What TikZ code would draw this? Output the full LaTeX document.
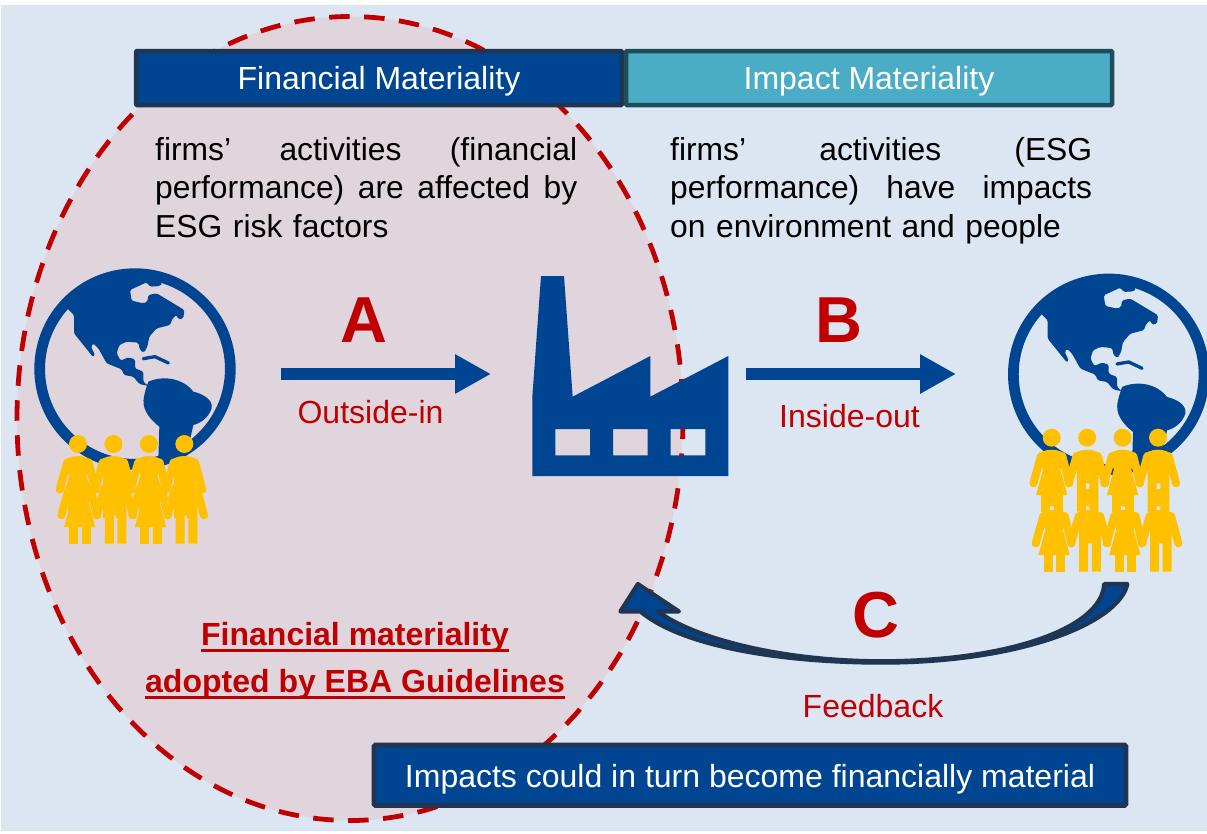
\documentclass[tikz,border=0pt]{standalone}
\usepackage{fontspec}
\setmainfont{Liberation Sans}
\usetikzlibrary{arrows.meta}
\definecolor{bgblue}{HTML}{DCE6F2}
\definecolor{navy}{HTML}{004592}
\definecolor{navyline}{HTML}{1F3552}
\definecolor{teal}{HTML}{4BACC6}
\definecolor{tealline}{HTML}{1F4E5A}
\definecolor{dred}{HTML}{C00000}
\definecolor{pink}{HTML}{E0D5DD}
\definecolor{gold}{HTML}{FFC000}
\tikzset{
  header/.style={draw, line width=4.5pt, rounded corners=1pt, minimum height=54pt, minimum width=486pt, inner sep=0pt, text=white, font=\fontsize{32}{38}\selectfont, anchor=center},
  bodytext/.style={text=black, text width=422pt, inner sep=0pt, anchor=north west, font=\fontsize{31.8}{38.5}\selectfont},
  bigletter/.style={text=dred, font=\bfseries\fontsize{65}{70}\selectfont, inner sep=0pt},
  redlabel/.style={text=dred, font=\fontsize{32}{38}\selectfont, inner sep=0pt},
  flow/.style={draw=navy, line width=12pt, -{Triangle[length=36pt,width=37pt]}},
  limb/.style={draw=gold, line width=8pt, line cap=round}
}
\newcommand{\lowered}[2]{\raisebox{-#1pt}[0pt][0pt]{#2}}
\newlength{\ulwd}
\newcommand{\thickul}[1]{\settowidth{\ulwd}{#1}\rlap{\rule[-6pt]{\ulwd}{3pt}}#1}
\newcommand{\globeicon}[2]{%
  \begin{scope}[shift={(#1,#2)},scale=1/3,shift={(-405,-357)}]
    \draw[navy,line width=10.7pt] (405,357) circle (286);
    \fill[navy,rounded corners=1.5pt] (205,178) -- (222,195) -- (222,250) -- (280,322) -- (285,315) -- (273,290) -- (280,280) -- (295,295) -- (320,340) -- (365,358) -- (372,375) -- (400,380) -- (418,402) -- (445,408) -- (430,395) -- (430,365) -- (405,355) -- (405,328) -- (385,322) -- (362,332) -- (350,310) -- (358,285) -- (380,275) -- (415,278) -- (420,300) -- (432,308) -- (442,290) -- (448,260) -- (470,235) -- (510,225) -- (518,205) -- (530,195) -- (535,208) -- (550,205) -- (553,180) -- (520,160) -- (470,130) -- (445,135) -- (442,155) -- (430,160) -- (395,152) -- (390,120) -- (440,97) -- (450,110) -- (480,108) -- (487,100) -- (450,72) -- (405,68) -- (350,72) -- (300,95) -- (245,125) -- (195,170) -- cycle;
    \draw[navy,line width=3.3pt,line cap=round] (430,326) -- (465,320) -- (505,339);
    \fill[navy] (445,395) .. controls (490,375) and (550,385) .. (580,425) .. controls (610,432) and (640,450) .. (635,475) .. controls (625,505) and (600,520) .. (580,525) -- (570,570) -- (510,625) -- (475,630) -- (478,530) .. controls (440,500) and (425,470) .. (432,440) .. controls (436,420) and (440,410) .. (445,395) -- cycle;
  \end{scope}}
\newcommand{\femalefig}[1]{%
  \begin{scope}[shift={(#1,0)}]
    \fill[gold] (0,0) circle (27);
    \draw[limb] (-32,55) -- (-55,137);
    \draw[limb] (32,55) -- (52,137);
    \fill[gold] (-42,56) .. controls (-40,44) and (-20,36) .. (0,36) .. controls (20,36) and (40,44) .. (42,56) -- (26,95) -- (47,172) -- (-47,172) -- (-26,95) -- cycle;
    \fill[gold] (-31,165) rectangle (-4,222);
    \fill[gold] (6,165) rectangle (33,222);
  \end{scope}}
\newcommand{\malefig}[1]{%
  \begin{scope}[shift={(#1,0)}]
    \fill[gold] (0,0) circle (27);
    \draw[limb] (-32,55) -- (-55,137);
    \draw[limb] (32,55) -- (54,137);
    \fill[gold] (-42,56) .. controls (-40,44) and (-20,36) .. (0,36) .. controls (20,36) and (40,44) .. (42,56) -- (34,100) -- (34,222) -- (7,222) -- (7,137) -- (-4,137) -- (-4,222) -- (-31,222) -- (-31,100) -- cycle;
  \end{scope}}
\newcommand{\peoplerow}[3]{%
  \begin{scope}[shift={(#1,#2)},scale=1/3,shift={(#3)}]
    \femalefig{0}\malefig{106.3}\femalefig{212.6}\malefig{319}
  \end{scope}}
\begin{document}
\begin{tikzpicture}[x=1pt,y=-1pt]
  \useasboundingbox (0,0) rectangle (1207,833);
  \fill[white] (0,0) rectangle (1207,833);
  \fill[bgblue] (1,5) rectangle (1207,831);
  % ellipse
  \fill[pink] (350,418.5) ellipse [x radius=333, y radius=402];
  \draw[dred,line width=4.8pt,dash pattern=on 20.5pt off 14.5pt] (350,418.5) ellipse [x radius=333, y radius=402];
  % globes and people
  \globeicon{135}{369}
  \peoplerow{78}{444}{0,0}
  \peoplerow{78}{444}{5,77}
  \globeicon{1108.7}{374.3}
  \peoplerow{1051.7}{437.7}{0,0}
  \peoplerow{1051.7}{437.7}{7,180}
  % factory
  \begin{scope}[shift={(510,260)},scale=1/3]
    \fill[navy,even odd rule] (93,48) -- (162,48) -- (188,410) -- (421,288) -- (421,410) -- (655,288) -- (655,648) -- (67,648) -- (67,410) -- cycle
      (136,507) rectangle (240,586) (309,507) rectangle (413,586) (482,507) rectangle (586,586);
  \end{scope}
  % headers
  \node[header, fill=navy, draw=navyline] (fin) at (379,78) {\lowered{11}{Financial Materiality}};
  \node[header, fill=teal, draw=tealline] (imp) at (869,78) {\lowered{11}{Impact Materiality}};
  % body
  \node[bodytext] (ftext) at (155,137) {\makebox[422pt][l]{firms’\hfill activities\hfill (financial}\\\makebox[422pt][l]{performance)\hfill are\hfill affected\hfill by}\\ESG risk factors};
  \node[bodytext] (itext) at (670,137) {\makebox[422pt][l]{firms’\hfill activities\hfill (ESG}\\\makebox[422pt][l]{performance)\hfill have\hfill impacts}\\on environment and people};
  % flows
  \coordinate (aS) at (281,374);
  \coordinate (aE) at (491,374);
  \coordinate (bS) at (746,374);
  \coordinate (bE) at (956,374);
  \draw[flow] (aS) -- (aE);
  \draw[flow] (bS) -- (bE);
  \node[bigletter] (la) at (364,320) {A};
  \node[bigletter] (lb) at (839,320) {B};
  \node[bigletter] (lc) at (876,615) {C};
  \node[redlabel] (oi) at (370.5,412) {Outside-in};
  \node[redlabel] (io) at (849.5,416) {Inside-out};
  \node[redlabel] (fb) at (873,706) {Feedback};
  % feedback arrow
  \begin{scope}[shift={(600,570)},scale=1/2.85]
    \filldraw[fill=navy,draw=navyline,line width=4.2pt,line join=round]
      (1503,40) .. controls (1480,150) and (1200,266) .. (790,264)
      .. controls (500,262) and (230,215) .. (115,118)
      -- (58,118) -- (108,40) -- (225,118) -- (165,118)
      .. controls (260,190) and (500,258) .. (790,260)
      .. controls (1150,262) and (1430,170) .. (1437,40) -- cycle;
  \end{scope}
  % red caption
  \node[text=dred, font=\bfseries\fontsize{32}{47}\selectfont, align=center, inner sep=0pt] (cap) at (355,661) {\thickul{Financial materiality}\\\thickul{adopted by EBA Guidelines}};
  % bottom box
  \node[draw=navyline, fill=navy, line width=4.8pt, rounded corners=1.5pt, text=white, font=\fontsize{32}{38}\selectfont, minimum width=752pt, minimum height=60.5pt, inner sep=0pt] (bot) at (750,775.3) {\lowered{12.4}{Impacts could in turn become financially material}};
\end{tikzpicture}
\end{document}
